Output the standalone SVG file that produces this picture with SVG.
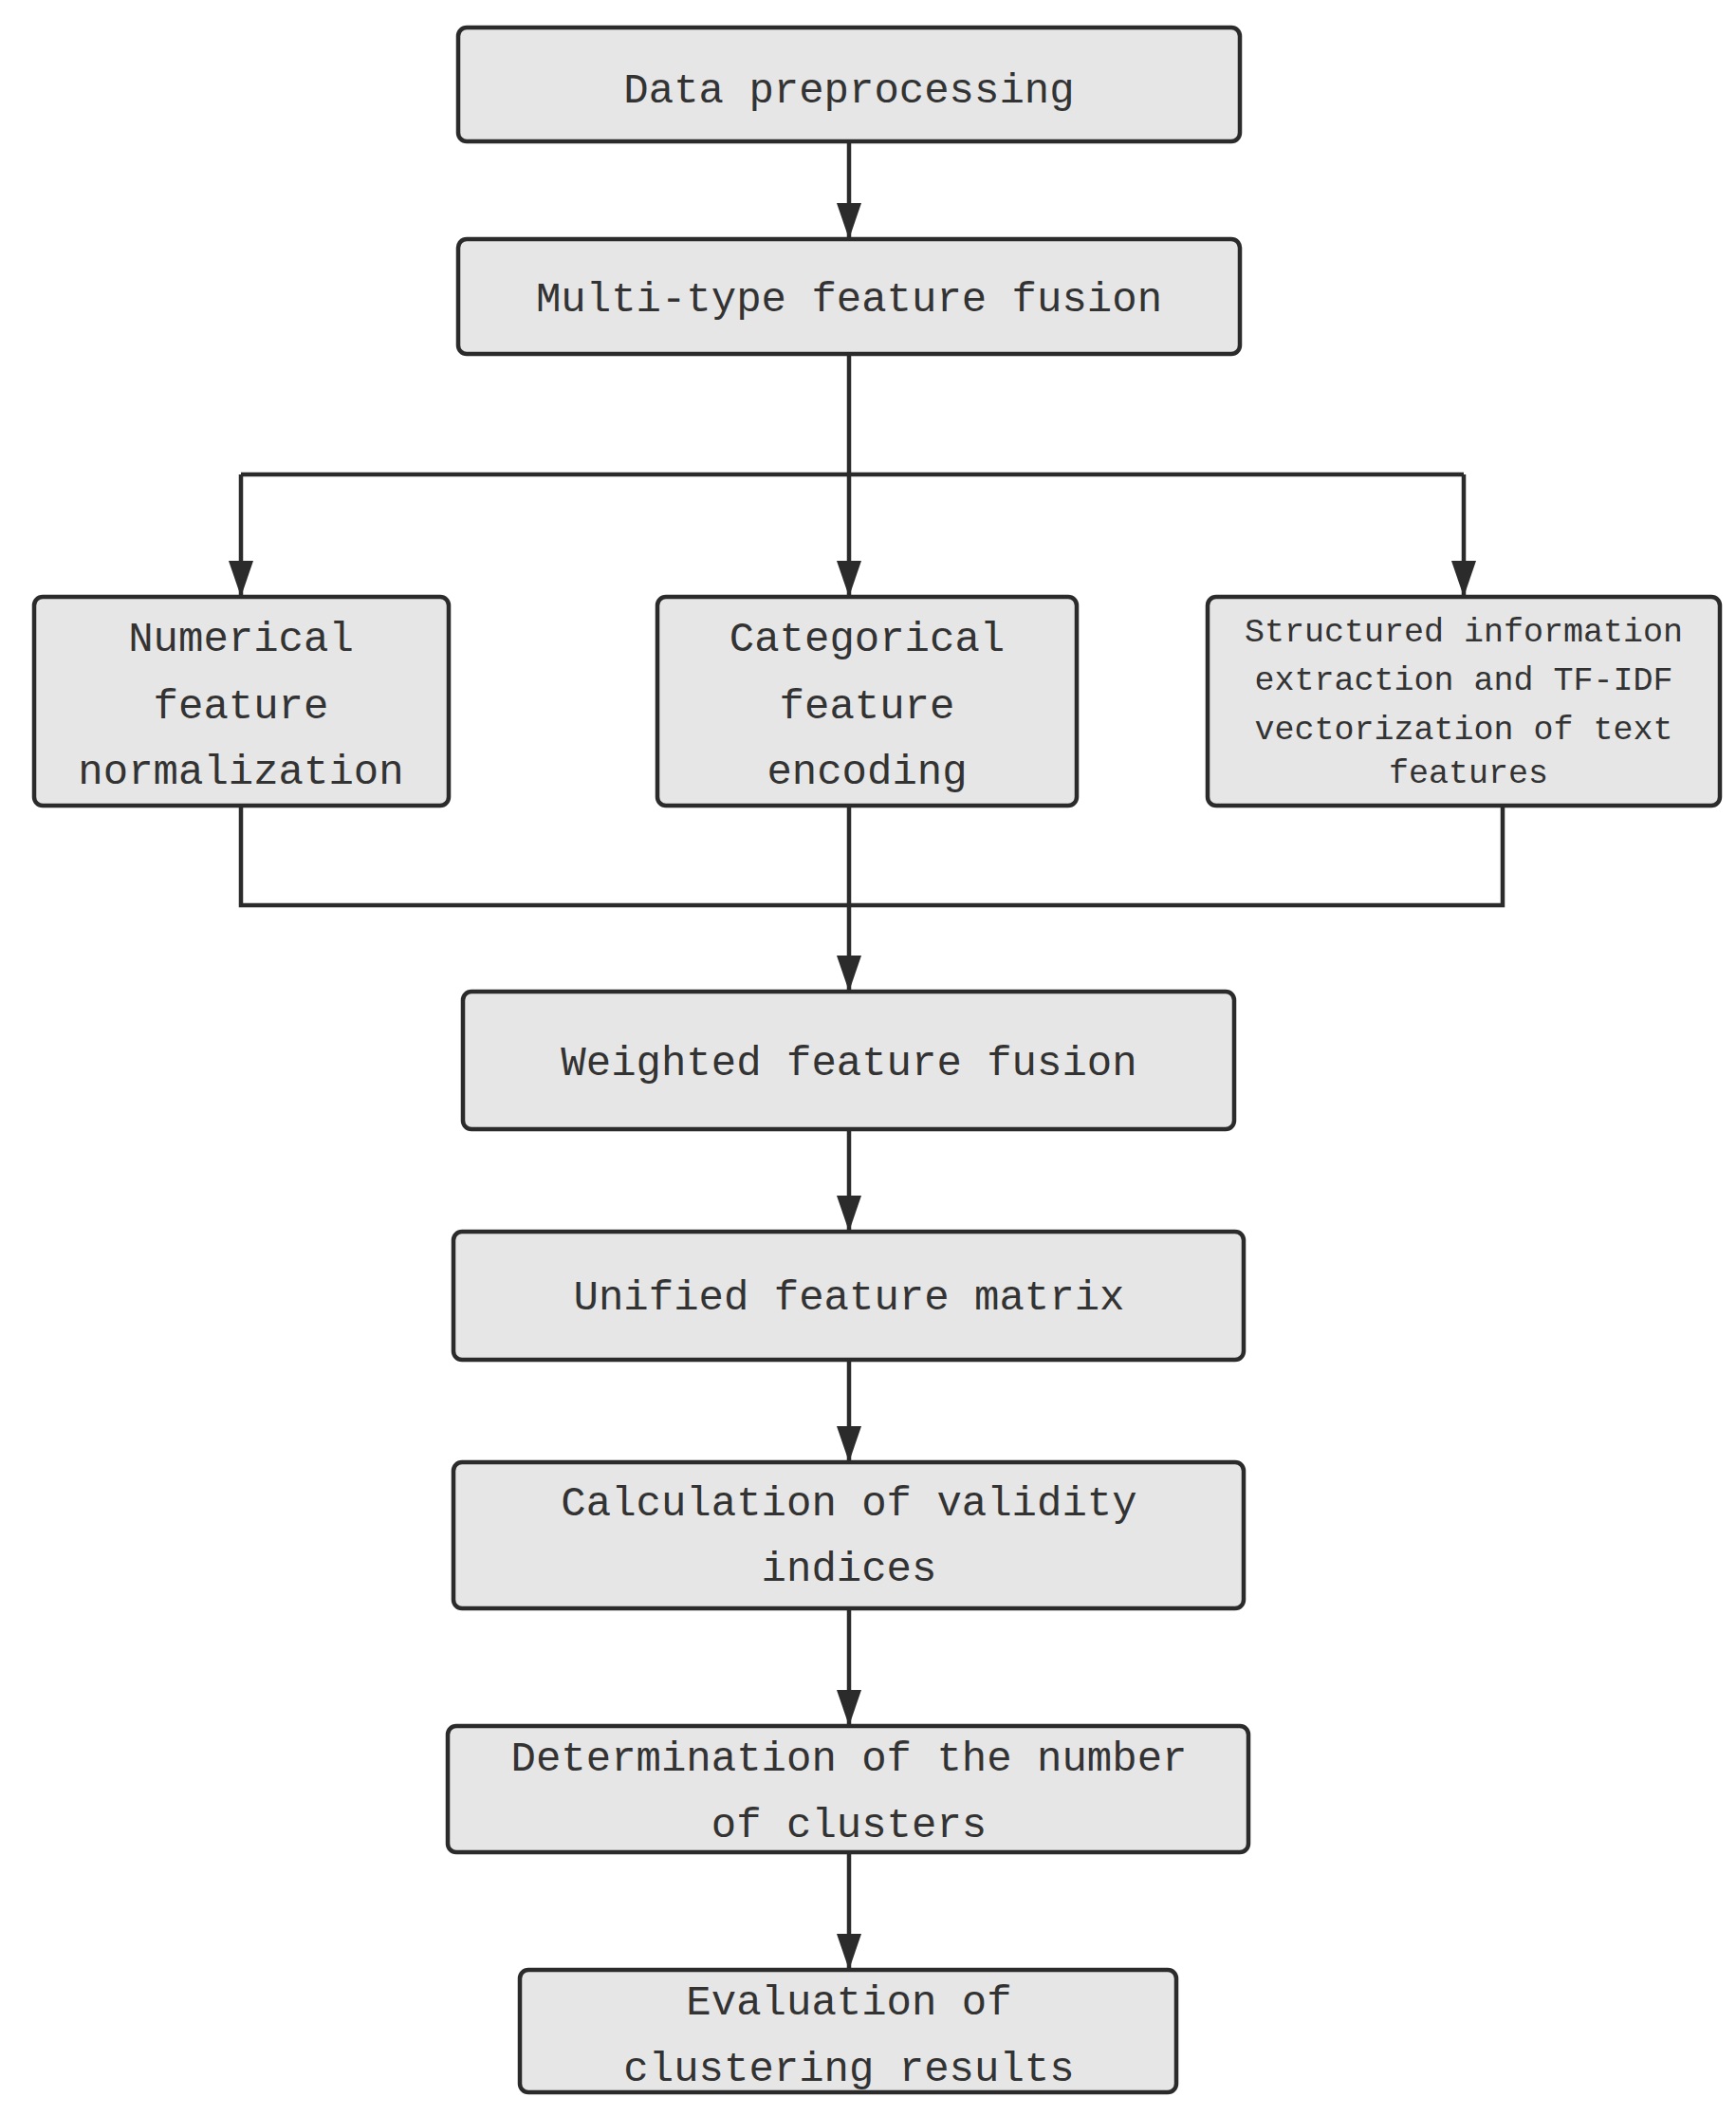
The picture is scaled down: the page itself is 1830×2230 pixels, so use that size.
<svg xmlns="http://www.w3.org/2000/svg" width="1830" height="2230" viewBox="0 0 1830 2230">
<style>
.box{fill:#e6e6e6;stroke:#2b2b2b;stroke-width:4.5}
.t{font-family:"Liberation Mono","DejaVu Sans Mono",monospace;font-size:44px;fill:#333;text-anchor:middle}
.s{font-size:35px}
.c{fill:none;stroke:#2b2b2b;stroke-width:4.5}
</style>
<defs>
<marker id="ah" markerUnits="userSpaceOnUse" markerWidth="30" markerHeight="40" refX="13" refY="36" orient="auto-start-reverse" viewBox="0 0 26 36">
<path d="M0,0 L26,0 L13,36 Z" fill="#2b2b2b" transform="rotate(0)"/>
</marker>
</defs>
<rect width="1830" height="2230" fill="#fff"/>
<g id="connectors">
<line class="c" x1="895" y1="149" x2="895" y2="250" marker-end="url(#ahv)"/>
<path class="c" d="M895,373 V500"/>
<path class="c" d="M254,500 H1543"/>
<path class="c" d="M895,500 V629"/><path class="c" d="M254,500 V629"/><path class="c" d="M1543,500 V629"/>
<path class="c" d="M254,849 V954 H1584 V849"/>
<path class="c" d="M895,849 V1045"/>
<path class="c" d="M895,1190 V1298"/>
<path class="c" d="M895,1433 V1541"/>
<path class="c" d="M895,1695 V1819"/>
<path class="c" d="M895,1952 V2076"/>
<g fill="#2b2b2b">
<path d="M882,214 H908 L895,252 Z"/>
<path d="M241,591 H267 L254,629 Z"/>
<path d="M882,591 H908 L895,629 Z"/>
<path d="M1530,591 H1556 L1543,629 Z"/>
<path d="M882,1007 H908 L895,1045 Z"/>
<path d="M882,1260 H908 L895,1298 Z"/>
<path d="M882,1503 H908 L895,1541 Z"/>
<path d="M882,1781 H908 L895,1819 Z"/>
<path d="M882,2038 H908 L895,2076 Z"/>
</g>
</g>
<g id="n1"><rect class="box" x="483" y="29" width="824" height="120" rx="9"/><text class="t" x="895" y="108">Data preprocessing</text></g>
<g id="n2"><rect class="box" x="483" y="252" width="824" height="121" rx="9"/><text class="t" x="895" y="328">Multi-type feature fusion</text></g>
<g id="n3"><rect class="box" x="36" y="629" width="437" height="220" rx="9"/><text class="t" x="254" y="686">Numerical</text><text class="t" x="254" y="757">feature</text><text class="t" x="254" y="826">normalization</text></g>
<g id="n4"><rect class="box" x="693" y="629" width="442" height="220" rx="9"/><text class="t" x="914" y="686">Categorical</text><text class="t" x="914" y="757">feature</text><text class="t" x="914" y="826">encoding</text></g>
<g id="n5"><rect class="box" x="1273" y="629" width="540" height="220" rx="9"/><text class="t s" x="1543" y="676">Structured information</text><text class="t s" x="1543" y="727">extraction and TF-IDF</text><text class="t s" x="1543" y="779">vectorization of text</text><text class="t s" x="1548" y="825">features</text></g>
<g id="n6"><rect class="box" x="488" y="1045" width="813" height="145" rx="9"/><text class="t" x="895" y="1133">Weighted feature fusion</text></g>
<g id="n7"><rect class="box" x="478" y="1298" width="833" height="135" rx="9"/><text class="t" x="895" y="1380">Unified feature matrix</text></g>
<g id="n8"><rect class="box" x="478" y="1541" width="833" height="154" rx="9"/><text class="t" x="895" y="1597">Calculation of validity</text><text class="t" x="895" y="1666">indices</text></g>
<g id="n9"><rect class="box" x="472" y="1819" width="844" height="133" rx="9"/><text class="t" x="895" y="1866">Determination of the number</text><text class="t" x="895" y="1936">of clusters</text></g>
<g id="n10"><rect class="box" x="548" y="2076" width="692" height="129" rx="9"/><text class="t" x="895" y="2123">Evaluation of</text><text class="t" x="895" y="2193">clustering results</text></g>
</svg>
